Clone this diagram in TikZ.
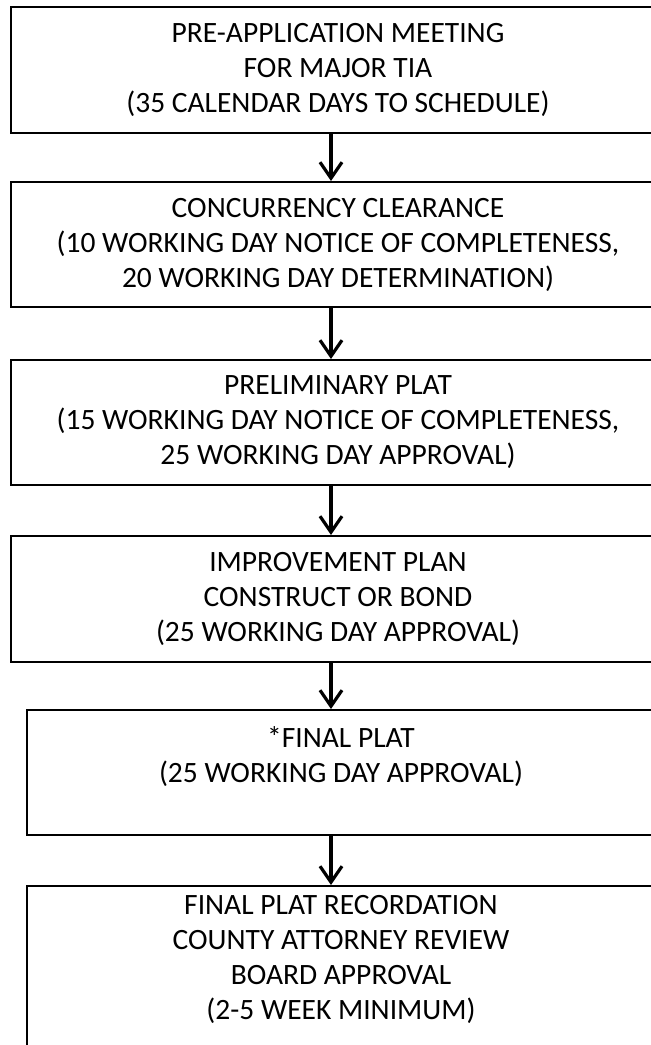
\documentclass[tikz,border=0pt]{standalone}
\usepackage{fontspec}
\setmainfont{Carlito}
\usepackage{tikz}
\usetikzlibrary{arrows.meta,calc}

\begin{document}
\begin{tikzpicture}[x=1pt, y=-1pt,
    stagebox/.style={rectangle, draw, line width=2pt, align=center, inner sep=0pt,
        font=\fontsize{29.5}{35}\selectfont},
    flow/.style={line width=3.2pt, -{Straight Barb[length=16pt, width=22pt, line width=3.2pt]}},
]
\useasboundingbox (0,0) rectangle (651,1045);

% Stages
\node[stagebox, minimum width=654, minimum height=126] (pre) at (338,70)
    {PRE-APPLICATION MEETING\\FOR MAJOR TIA\\(35 CALENDAR DAYS TO SCHEDULE)};
\node[stagebox, minimum width=654, minimum height=125] (conc) at (338,244.5)
    {CONCURRENCY CLEARANCE\\(10 WORKING DAY NOTICE OF COMPLETENESS,\\20 WORKING DAY DETERMINATION)};
\node[stagebox, minimum width=654, minimum height=125] (prelim) at (338,422.5)
    {PRELIMINARY PLAT\\(15 WORKING DAY NOTICE OF COMPLETENESS,\\25 WORKING DAY APPROVAL)};
\node[stagebox, minimum width=654, minimum height=126] (improve) at (338,599)
    {IMPROVEMENT PLAN\\CONSTRUCT OR BOND\\(25 WORKING DAY APPROVAL)};
\node[stagebox, minimum width=628, minimum height=125] (final) at (341,772.5)
    {*FINAL PLAT\\(25 WORKING DAY APPROVAL)\\\mbox{}};
\node[stagebox, minimum width=628, minimum height=178] (record) at (341,975)
    {FINAL PLAT RECORDATION\\COUNTY ATTORNEY REVIEW\\BOARD APPROVAL\\(2-5 WEEK MINIMUM)\\\mbox{}};

% Arrows
\coordinate (ax) at (331,0);
\draw[flow] (pre.south -| ax) -- (conc.north -| ax);
\draw[flow] (conc.south -| ax) -- (prelim.north -| ax);
\draw[flow] (prelim.south -| ax) -- (improve.north -| ax);
\draw[flow] (improve.south -| ax) -- (final.north -| ax);
\draw[flow] (final.south -| ax) -- (record.north -| ax);

\end{tikzpicture}
\end{document}
